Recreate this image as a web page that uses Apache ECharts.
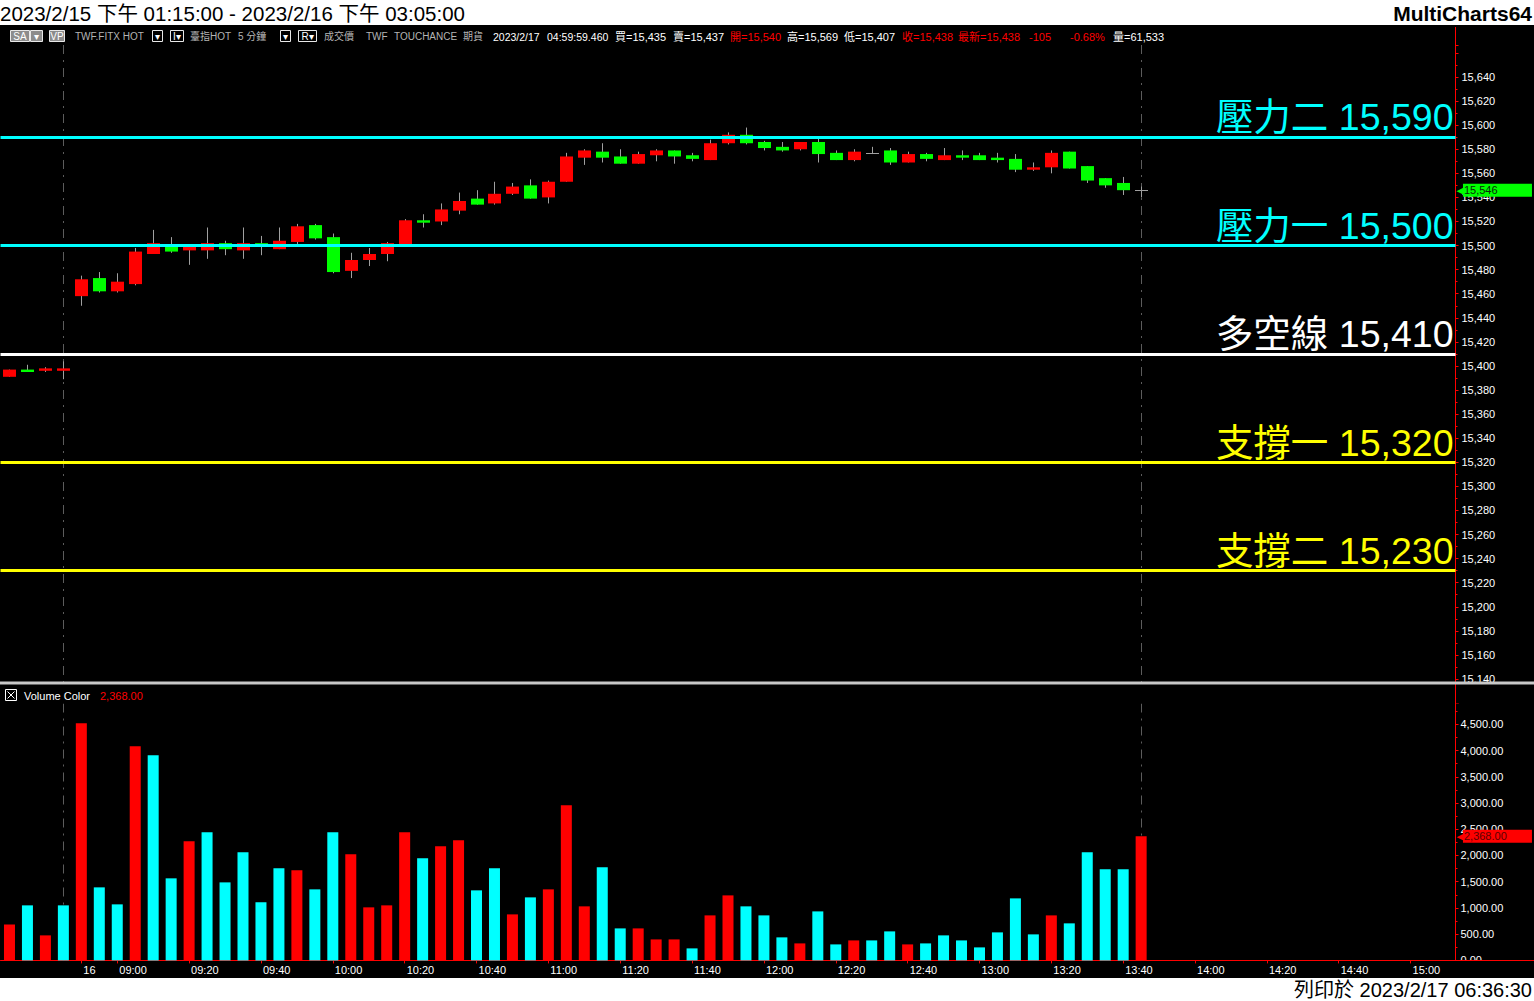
<!DOCTYPE html>
<html>
<head>
<meta charset="utf-8">
<script src="https://cdn.jsdelivr.net/npm/echarts@6/dist/echarts.min.js"></script>
<style>
html,body{margin:0;padding:0;background:#fff;}
#c{width:1534px;height:1001px;}
</style>
</head>
<body>
<div id="c"></div>
<script>
// ---------------- data ----------------
const categories = [
  '2/15 13:30','2/15 13:35','2/15 13:40','2/15 13:45',
  '08:50','08:55',
  '09:00','09:05','09:10','09:15','09:20','09:25','09:30','09:35','09:40','09:45','09:50','09:55',
  '10:00','10:05','10:10','10:15','10:20','10:25','10:30','10:35','10:40','10:45','10:50','10:55',
  '11:00','11:05','11:10','11:15','11:20','11:25','11:30','11:35','11:40','11:45','11:50','11:55',
  '12:00','12:05','12:10','12:15','12:20','12:25','12:30','12:35','12:40','12:45','12:50','12:55',
  '13:00','13:05','13:10','13:15','13:20','13:25','13:30','13:35','13:40','13:45','13:50','13:55',
  '14:00','14:05','14:10','14:15','14:20','14:25','14:30','14:35','14:40','14:45','14:50','14:55',
  '15:00','15:05','15:10'
];
const opens  = [15391,15397,15396,15396,15458,15473,15462,15468,15493,15501,15496,15496,15502,15496,15502,15497,
                15503,15517,15507,15479,15488,15493,15501,15521,15520,15529,15539,15535,15543,15550,15540,15553,
                15573,15578,15574,15568,15575,15579,15575,15571,15585,15592,15586,15582,15580,15586,15577,15571,
                15577,15579,15569,15576,15571,15575,15575,15573,15572,15563,15565,15578,15566,15556,15552,15546];
const highs  = [15397,15401,15399,15404,15475,15478,15477,15498,15513,15507,15501,15515,15504,15515,15508,15515,
                15518,15518,15510,15494,15498,15503,15522,15526,15535,15544,15546,15553,15552,15555,15554,15577,
                15580,15585,15580,15578,15580,15579,15577,15588,15594,15598,15587,15586,15586,15589,15579,15580,
                15582,15581,15578,15577,15581,15579,15577,15577,15576,15569,15579,15578,15566,15556,15557,15549];
const lows   = [15391,15395,15395,15389,15450,15461,15461,15467,15493,15494,15484,15489,15492,15489,15492,15497,
                15500,15505,15477,15473,15483,15487,15501,15515,15517,15526,15534,15534,15542,15539,15535,15553,
                15567,15569,15568,15568,15570,15568,15570,15571,15584,15584,15579,15578,15579,15569,15571,15570,
                15576,15567,15569,15570,15571,15571,15571,15569,15561,15562,15560,15564,15552,15548,15542,15540];
const closes = [15397,15395,15398,15398,15472,15462,15470,15495,15502,15495,15500,15502,15497,15502,15500,15504,
                15516,15506,15478,15488,15493,15502,15521,15519,15530,15537,15534,15543,15549,15539,15553,15574,
                15579,15573,15568,15576,15579,15574,15572,15585,15592,15585,15581,15579,15586,15576,15571,15578,
                15577,15569,15576,15572,15575,15573,15571,15571,15563,15565,15577,15564,15554,15550,15546,15546];
const volumes = [686,1049,477,1049,4519,1392,1068,4081,3909,1564,2269,2441,1487,2059,1106,1754,
                 1716,1354,2441,2021,1011,1049,2441,1945,2174,2288,1335,1754,877,1201,1354,2956,
                 1030,1773,610,610,400,400,229,858,1239,1030,858,439,324,934,305,381,
                 381,553,305,324,477,381,248,534,1182,496,858,706,2059,1735,1735,2368];
const volumeSide = ['r','c','r','c','r','c','c','r','c','c','r','c','c','c','c','c',
                    'r','c','c','r','r','r','r','c','r','r','c','c','r','c','r','r',
                    'r','c','c','r','r','r','c','r','r','c','c','c','r','c','c','r',
                    'c','c','r','c','c','c','c','c','c','c','r','c','c','c','c','r'];
const levelValues = [15590, 15500, 15410, 15320, 15230];
const levelNames  = ['壓力二', '壓力一', '多空線', '支撐一', '支撐二'];
const levelColors = ['#00ffff', '#00ffff', '#ffffff', '#ffff00', '#ffff00'];
const tickTimes = ['08:50','09:00','09:20','09:40','10:00','10:20','10:40','11:00','11:20','11:40',
                   '12:00','12:20','12:40','13:00','13:20','13:40','14:00','14:20','14:40','15:00'];
const tickTexts = ['16','09:00','09:20','09:40','10:00','10:20','10:40','11:00','11:20','11:40',
                   '12:00','12:20','12:40','13:00','13:20','13:40','14:00','14:20','14:40','15:00'];
const markerBars = ['2/15 13:45', '13:45'];

// ---------------- styling ----------------
const FONT = "'Liberation Sans', Arial, 'Noto Sans CJK TC', sans-serif";
const RED = '#ff0000', GREEN = '#00ff00', CYAN = '#00ffff', WICK = '#a0a0a0';
const fmtP = v => v.toLocaleString('en-US');
const fmtV = v => v.toLocaleString('en-US', {minimumFractionDigits: 2, maximumFractionDigits: 2});

const tickIdx = tickTimes.map(t => categories.indexOf(t));
const tickMap = {};
tickIdx.forEach((ix, k) => { tickMap[ix] = tickTexts[k]; });
const showTick = (index) => tickMap[index] !== undefined;

const candleData = opens.map((o, i) => [i, o, closes[i], lows[i], highs[i]]);
const markerIdx = markerBars.map(n => [categories.indexOf(n)]);
const lastI = closes.length - 1;

function renderCandle(params, api) {
  const i = api.value(0), o = api.value(1), c = api.value(2), l = api.value(3), h = api.value(4);
  const pO = api.coord([i, o]), pC = api.coord([i, c]), pL = api.coord([i, l]), pH = api.coord([i, h]);
  const x = Math.round(pO[0]) + 0.5;
  const bw = 13;
  const children = [{type: 'line', shape: {x1: x, y1: pH[1], x2: x, y2: pL[1]}, style: {stroke: WICK, lineWidth: 1}}];
  if (c === o) {
    const y = Math.round(pO[1]) + 0.5;
    children.push({type: 'line', shape: {x1: x - bw / 2, y1: y, x2: x + bw / 2, y2: y}, style: {stroke: WICK, lineWidth: 1}});
  } else {
    const top = Math.min(pO[1], pC[1]), bot = Math.max(pO[1], pC[1]);
    children.push({type: 'rect', shape: {x: x - bw / 2, y: top, width: bw, height: Math.max(bot - top, 1)},
                   style: {fill: c > o ? RED : GREEN}});
  }
  return {type: 'group', children};
}
function renderMarker(params, api) {
  const x = Math.round(api.coord([api.value(0), 0])[0]) + 0.5;
  const cs = params.coordSys;
  return {type: 'line', shape: {x1: x, y1: cs.y, x2: x, y2: cs.y + cs.height},
          style: {stroke: '#5c5c5c', lineWidth: 1, lineDash: [9, 6, 2, 6]}};
}

// ---------------- graphic (frame & texts) ----------------
const G = [];
G.push({type: 'rect', z: 200, shape: {x: 0, y: 0, width: 1534, height: 25}, style: {fill: '#fff'}});
G.push({type: 'rect', z: 200, shape: {x: 0, y: 978, width: 1534, height: 23}, style: {fill: '#fff'}});
G.push({type: 'text', z: 210, x: 0, y: 13, style: {text: '2023/2/15 下午 01:15:00 - 2023/2/16 下午 03:05:00', fill: '#000', font: '20.5px ' + FONT, verticalAlign: 'middle', align: 'left'}});
G.push({type: 'text', z: 210, x: 1532, y: 13, style: {text: 'MultiCharts64', fill: '#000', font: 'bold 21px ' + FONT, verticalAlign: 'middle', align: 'right'}});
G.push({type: 'text', z: 210, x: 1532, y: 990, style: {text: '列印於 2023/2/17 06:36:30', fill: '#000', font: '20px ' + FONT, verticalAlign: 'middle', align: 'right'}});
// pane separator band
G.push({type: 'rect', z: 150, shape: {x: 0, y: 684, width: 1455, height: 19.5}, style: {fill: '#000'}});
G.push({type: 'rect', z: 150, shape: {x: 1456, y: 684, width: 78, height: 19.5}, style: {fill: '#000'}});
G.push({type: 'rect', z: 150, shape: {x: 1456, y: 961, width: 78, height: 17}, style: {fill: '#000'}});
G.push({type: 'line', z: 160, shape: {x1: 0, y1: 683, x2: 1534, y2: 683}, style: {stroke: '#c8c8c8', lineWidth: 3}});
G.push({type: 'line', z: 160, shape: {x1: 1455, y1: 960.5, x2: 1534, y2: 960.5}, style: {stroke: RED, lineWidth: 1}});
G.push({type: 'line', z: 160, shape: {x1: 1455.5, y1: 27, x2: 1455.5, y2: 45}, style: {stroke: RED, lineWidth: 1}});
// header boxes
const boxes = [
  {x: 10.5, w: 19, t: 'SA', fill: '#8c8c8c'}, {x: 30.5, w: 12, t: '▾', fill: '#8c8c8c'},
  {x: 49.5, w: 15, t: 'VP', fill: '#8c8c8c'}, {x: 152.5, w: 10, t: '▾', fill: '#000'},
  {x: 170.5, w: 13, t: 'I▾', fill: '#000'}, {x: 280.5, w: 10, t: '▾', fill: '#000'},
  {x: 298.5, w: 18, t: 'R▾', fill: '#000'}
];
boxes.forEach(b => {
  G.push({type: 'rect', z: 210, shape: {x: b.x, y: 30.5, width: b.w, height: 11}, style: {fill: b.fill, stroke: '#e8e8e8', lineWidth: 1}});
  G.push({type: 'text', z: 211, x: b.x + b.w / 2, y: 36.5, style: {text: b.t, fill: '#fff', font: '10px ' + FONT, align: 'center', verticalAlign: 'middle'}});
});
const GREY = '#b4b4b4', WH = '#ffffff';
const headerTexts = [
  ['TWF.FITX HOT', 75, GREY, 10], ['臺指HOT', 190, GREY, 10], ['5 分鐘', 238, GREY, 10], ['成交價', 324, GREY, 10],
  ['TWF', 366, GREY, 10], ['TOUCHANCE', 394, GREY, 10], ['期貨', 463, GREY, 10], ['2023/2/17', 493, WH, 10.5],
  ['04:59:59.460', 547, WH, 10.5], ['買=15,435', 615, WH, 11], ['賣=15,437', 673, WH, 11], ['開=15,540', 730, RED, 11],
  ['高=15,569', 787, WH, 11], ['低=15,407', 844, WH, 11], ['收=15,438', 902, RED, 11], ['最新=15,438', 958, RED, 11],
  ['-105', 1029, RED, 11], ['-0.68%', 1070, RED, 11], ['量=61,533', 1113, WH, 11]
];
headerTexts.forEach(h => {
  G.push({type: 'text', z: 211, x: h[1], y: 36.5, style: {text: h[0], fill: h[2], font: h[3] + 'px ' + FONT, align: 'left', verticalAlign: 'middle'}});
});
// volume header
G.push({type: 'rect', z: 211, shape: {x: 5.5, y: 689.5, width: 11, height: 11}, style: {fill: '#000', stroke: '#fff', lineWidth: 1}});
G.push({type: 'line', z: 212, shape: {x1: 7.5, y1: 691.5, x2: 14.5, y2: 698.5}, style: {stroke: '#fff', lineWidth: 1}});
G.push({type: 'line', z: 212, shape: {x1: 14.5, y1: 691.5, x2: 7.5, y2: 698.5}, style: {stroke: '#fff', lineWidth: 1}});
G.push({type: 'text', z: 211, x: 24, y: 695.5, style: {text: 'Volume Color', fill: '#fff', font: '11px ' + FONT, align: 'left', verticalAlign: 'middle'}});
G.push({type: 'text', z: 211, x: 100, y: 695.5, style: {text: fmtV(volumes[lastI]), fill: RED, font: '11px ' + FONT, align: 'left', verticalAlign: 'middle'}});

// ---------------- option ----------------
const levelLines = levelValues.map((v, k) => ({
  yAxis: v,
  lineStyle: {color: levelColors[k], width: 3, type: 'solid'},
  label: {show: true, position: 'insideEndTop', distance: [2, 1], formatter: levelNames[k] + ' ' + fmtP(v),
          color: levelColors[k], fontSize: 37.5, fontFamily: FONT}
}));
const badgeLine = (val, text, fill, txtColor) => ({
  yAxis: val,
  lineStyle: {color: 'rgba(0,0,0,0)', width: 1},
  label: {show: true, position: 'end', distance: 1, color: txtColor, textBorderWidth: 0,
          formatter: '{a|◀}{b|' + text + '}',
          rich: {a: {color: fill, fontSize: 11, fontFamily: 'DejaVu Sans', padding: [0, -2, 0, 0], textBorderWidth: 0},
                 b: {backgroundColor: fill, color: txtColor, textBorderWidth: 0, fontSize: 11, fontFamily: FONT,
                     width: 68, height: 13, lineHeight: 13, padding: [0, 0, 0, 1]}}}
});

const option = {
  backgroundColor: '#000',
  animation: false,
  textStyle: {fontFamily: FONT},
  graphic: {elements: G},
  grid: [
    {left: 0.5, width: 1455, top: 45, height: 658.1},
    {left: 0.5, width: 1455, top: 703.5, height: 256.9}
  ],
  xAxis: [
    {type: 'category', gridIndex: 0, data: categories, boundaryGap: true,
     axisLine: {show: false}, axisTick: {show: false}, axisLabel: {show: false}, splitLine: {show: false}},
    {type: 'category', gridIndex: 1, data: categories, boundaryGap: true,
     axisLine: {show: true, lineStyle: {color: RED, width: 1}},
     axisTick: {show: true, alignWithLabel: true, interval: showTick, length: 3, lineStyle: {color: RED}},
     axisLabel: {show: true, interval: showTick, formatter: (v, i) => tickMap[i] || '', color: '#fff',
                 fontSize: 11, fontFamily: FONT, align: 'left', margin: 4, padding: [0, 0, 0, 2]},
     splitLine: {show: false}}
  ],
  yAxis: [
    {type: 'value', gridIndex: 0, position: 'right', min: 15120, max: 15666.58, interval: 20,
     axisLine: {show: true, lineStyle: {color: RED}},
     axisTick: {show: true, length: 3, lineStyle: {color: RED}},
     minorTick: {show: true, splitNumber: 2, length: 2, lineStyle: {color: RED}},
     splitLine: {show: false},
     axisLabel: {color: '#fff', fontSize: 11, fontFamily: FONT, margin: 6,
                 formatter: v => (Math.abs(v % 20) < 1e-6 && v >= 15140 && v <= 15640) ? fmtP(v) : ''}},
    {type: 'value', gridIndex: 1, position: 'right', min: 0, max: 4896, interval: 500,
     axisLine: {show: true, lineStyle: {color: RED}},
     axisTick: {show: true, length: 3, lineStyle: {color: RED}},
     minorTick: {show: true, splitNumber: 2, length: 2, lineStyle: {color: RED}},
     splitLine: {show: false},
     axisLabel: {color: '#fff', fontSize: 11, fontFamily: FONT, margin: 5,
                 formatter: v => (Math.abs(v % 500) < 1e-6 && v <= 4500) ? fmtV(v) : ''}}
  ],
  series: [
    {type: 'custom', name: 'markers-price', xAxisIndex: 0, yAxisIndex: 0, z: 1, silent: true,
     data: markerIdx, encode: {x: 0}, renderItem: renderMarker},
    {type: 'custom', name: 'markers-volume', xAxisIndex: 1, yAxisIndex: 1, z: 1, silent: true,
     data: markerIdx, encode: {x: 0}, renderItem: renderMarker},
    {type: 'custom', name: 'TWF.FITX HOT', xAxisIndex: 0, yAxisIndex: 0, z: 3,
     data: candleData, encode: {x: 0, y: [1, 2, 3, 4]}, renderItem: renderCandle,
     markLine: {symbol: ['none', 'none'], silent: true, animation: false,
                data: levelLines.concat([badgeLine(closes[lastI], fmtP(closes[lastI]), GREEN, '#0a2a0a')])}},
    {type: 'bar', name: 'Volume', xAxisIndex: 1, yAxisIndex: 1, z: 3, barWidth: 11,
     data: volumes.map((v, i) => ({value: v, itemStyle: {color: volumeSide[i] === 'r' ? RED : CYAN}})),
     markLine: {symbol: ['none', 'none'], silent: true, animation: false,
                data: [badgeLine(volumes[lastI], fmtV(volumes[lastI]), RED, '#5a0000')]}}
  ]
};

const chart = echarts.init(document.getElementById('c'), null, {renderer: 'svg'});
chart.setOption(option);
</script>
</body>
</html>
